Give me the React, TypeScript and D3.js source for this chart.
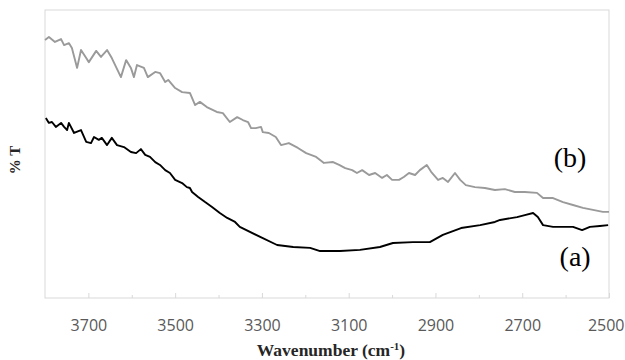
import React, { useEffect, useRef } from 'react';
import * as d3 from 'd3';

// wavenumber (cm-1) and transmittance
const waveB = [3800, 3791, 3777, 3763, 3756, 3745, 3738, 3726, 3717, 3705, 3699, 3682, 3671, 3657, 3646, 3625, 3613, 3602, 3595, 3588, 3572, 3563, 3546, 3535, 3523, 3516, 3500, 3484, 3466, 3454, 3443, 3427, 3404, 3390, 3374, 3357, 3344, 3332, 3325, 3314, 3302, 3298, 3284, 3268, 3256, 3238, 3217, 3198, 3175, 3157, 3136, 3122, 3108, 3092, 3081, 3069, 3053, 3039, 3023, 3012, 3000, 2984, 2973, 2961, 2947, 2936, 2920, 2910, 2894, 2883, 2871, 2855, 2843, 2830, 2809, 2786, 2763, 2740, 2717, 2694, 2666, 2652, 2629, 2606, 2583, 2560, 2537, 2514, 2500];
const transB = [89.6, 90.6, 88.9, 89.9, 87.8, 88.5, 86.8, 79.9, 86.1, 83.3, 81.9, 85.8, 83.7, 86.1, 83.3, 76.7, 82.6, 79.9, 76.7, 80.9, 79.9, 76.7, 78.5, 78.1, 75.0, 75.7, 72.9, 71.5, 71.2, 67.0, 68.1, 66.3, 64.6, 64.2, 61.1, 62.8, 61.8, 61.1, 59.0, 59.0, 59.4, 57.6, 57.3, 55.9, 53.1, 53.8, 52.1, 50.3, 49.0, 46.9, 47.2, 46.2, 45.1, 44.4, 43.4, 44.4, 42.7, 43.4, 41.7, 42.7, 41.0, 41.0, 42.0, 43.4, 42.7, 44.4, 46.2, 43.8, 41.0, 41.7, 40.3, 43.4, 41.0, 39.2, 38.5, 38.2, 37.5, 37.8, 36.8, 36.8, 36.5, 34.7, 34.7, 33.3, 32.3, 31.3, 30.6, 29.9, 29.9];

const waveA = [3798, 3791, 3784, 3775, 3763, 3756, 3749, 3745, 3733, 3717, 3705, 3694, 3687, 3676, 3669, 3657, 3646, 3634, 3618, 3602, 3590, 3579, 3569, 3558, 3546, 3535, 3523, 3512, 3500, 3484, 3473, 3466, 3461, 3447, 3431, 3415, 3397, 3380, 3362, 3351, 3304, 3265, 3228, 3189, 3166, 3120, 3074, 3028, 2998, 2952, 2913, 2883, 2841, 2797, 2763, 2751, 2712, 2694, 2675, 2664, 2652, 2629, 2606, 2583, 2562, 2544, 2521, 2502];
const transA = [62.5, 60.8, 61.1, 59.4, 60.8, 59.4, 58.3, 60.8, 57.3, 58.3, 54.2, 53.8, 55.9, 54.9, 55.6, 53.1, 55.6, 53.1, 52.4, 50.7, 50.3, 51.7, 49.7, 49.0, 47.2, 46.2, 44.4, 43.4, 41.0, 39.9, 38.5, 38.2, 36.8, 35.1, 33.3, 31.6, 29.5, 27.8, 26.4, 24.7, 21.2, 18.4, 17.7, 17.4, 16.3, 16.3, 16.7, 17.7, 19.1, 19.4, 19.4, 21.9, 24.3, 25.3, 26.4, 27.1, 28.1, 28.8, 29.5, 28.1, 25.3, 24.7, 24.7, 24.7, 23.6, 24.7, 25.0, 25.3];

const majorTicks = [3700, 3500, 3300, 3100, 2900, 2700, 2500];
const minorTicks = [3600, 3400, 3200, 3000, 2800, 2600];

const App = () => {
  const svgRef = useRef<SVGSVGElement>(null);

  useEffect(() => {
    const width = 625;
    const height = 360;
    const margin = { top: 10, right: 16, bottom: 62, left: 45 };
    const w = width - margin.left - margin.right;
    const h = height - margin.top - margin.bottom;

    const svg = d3.select(svgRef.current);
    svg.selectAll('*').remove();

    const g = svg.append('g')
      .attr('transform', `translate(${margin.left},${margin.top})`);

    const x = d3.scaleLinear().domain([3800, 2500]).range([0, w]);
    const y = d3.scaleLinear().domain([0, 100]).range([h, 0]);

    g.append('rect')
      .attr('width', w)
      .attr('height', h)
      .attr('fill', 'none')
      .attr('stroke', '#d9d9d9');

    const xAxis = g.append('g')
      .attr('transform', `translate(0,${h})`)
      .call(d3.axisBottom(x).tickValues(majorTicks).tickSize(-5).tickPadding(22).tickFormat(d3.format('d')));
    xAxis.select('.domain').remove();
    xAxis.selectAll('line').attr('stroke', '#d9d9d9');
    xAxis.selectAll('text')
      .attr('fill', '#595959')
      .style('font-family', '"Open Sans", sans-serif')
      .style('font-size', '16px');
    // keep the last label inside the frame
    xAxis.selectAll<SVGTextElement, number>('text')
      .filter(d => d === 2500)
      .attr('text-anchor', 'end')
      .attr('dx', 15);

    const minor = g.append('g')
      .attr('transform', `translate(0,${h})`)
      .call(d3.axisBottom(x).tickValues(minorTicks).tickSize(-3).tickFormat(() => ''));
    minor.select('.domain').remove();
    minor.selectAll('line').attr('stroke', '#d9d9d9');

    const drawSeries = (waves: number[], vals: number[], color: string) => {
      const line = d3.line<number>()
        .x(d => x(d))
        .y((d, i) => y(vals[i]));
      g.append('path')
        .attr('d', line(waves))
        .attr('fill', 'none')
        .attr('stroke', color)
        .attr('stroke-width', 1.9)
        .attr('stroke-linejoin', 'round');
    };

    drawSeries(waveB, transB, '#9a9a9a');
    drawSeries(waveA, transA, '#000000');

    g.append('text')
      .attr('x', x(2590))
      .attr('y', y(45.5))
      .attr('text-anchor', 'middle')
      .style('font-family', '"Liberation Serif", serif')
      .style('font-size', '28px')
      .text('(b)');

    g.append('text')
      .attr('x', x(2578))
      .attr('y', y(11.2))
      .attr('text-anchor', 'middle')
      .style('font-family', '"Liberation Serif", serif')
      .style('font-size', '28px')
      .text('(a)');

    const title = svg.append('text')
      .attr('x', 331)
      .attr('y', 356)
      .attr('text-anchor', 'middle')
      .style('font-family', '"Liberation Serif", serif')
      .style('font-weight', 'bold')
      .style('font-size', '17.5px')
      .attr('fill', '#262626');
    title.append('tspan').text('Wavenumber (cm');
    title.append('tspan').attr('dy', -6).style('font-size', '11px').text('-1');
    title.append('tspan').attr('dy', 6).text(')');

    svg.append('text')
      .attr('transform', 'translate(20,160) rotate(-90)')
      .attr('text-anchor', 'middle')
      .style('font-family', '"Liberation Serif", serif')
      .style('font-weight', 'bold')
      .style('font-size', '15px')
      .attr('fill', '#262626')
      .text('% T');
  }, []);

  return (
    <svg ref={svgRef} width={625} height={360} style={{ position: 'absolute', left: 0, top: 0 }}></svg>
  );
};

export default App;
